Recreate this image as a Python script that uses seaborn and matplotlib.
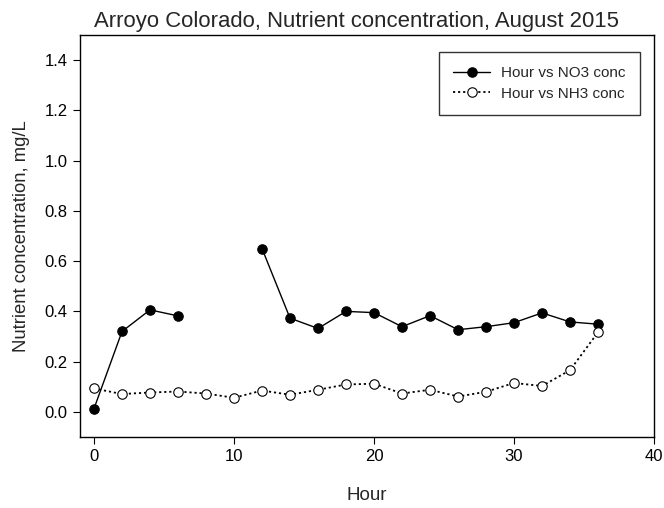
import numpy as np
import pandas as pd
import matplotlib
matplotlib.use("Agg")
import matplotlib.pyplot as plt
import seaborn as sns

# Sampling hours and measured concentrations (mg/L); NO3 missing at hours 8 and 10
hours = [0, 2, 4, 6, 8, 10, 12, 14, 16, 18, 20, 22, 24, 26, 28, 30, 32, 34, 36]
no3_conc = [0.013, 0.320, 0.406, 0.382, np.nan, np.nan, 0.650, 0.373, 0.332, 0.400,
            0.395, 0.339, 0.383, 0.327, 0.339, 0.355, 0.394, 0.358, 0.349]
nh3_conc = [0.093, 0.071, 0.077, 0.081, 0.073, 0.056, 0.085, 0.068, 0.088, 0.109,
            0.112, 0.073, 0.088, 0.061, 0.080, 0.115, 0.103, 0.166, 0.317]

x_ticks = [0, 10, 20, 30, 40]
y_ticks = [0.0, 0.2, 0.4, 0.6, 0.8, 1.0, 1.2, 1.4]

df = pd.DataFrame({"Hour": hours, "NO3": no3_conc, "NH3": nh3_conc})
# split NO3 into contiguous runs so the missing hours leave a gap in the line
df["run"] = df["NO3"].isna().cumsum()

sns.set_style("ticks")
plt.rcParams["font.family"] = ["Liberation Sans", "DejaVu Sans"]
plt.rcParams["font.stretch"] = "normal"

fig = plt.figure(figsize=(6.64, 5.08), dpi=100)
ax = fig.add_axes([0.1205, 0.1398, 0.8645, 0.7912])

no3 = df.dropna(subset=["NO3"])
first = True
for _, seg in no3.groupby("run"):
    sns.lineplot(data=seg, x="Hour", y="NO3", ax=ax, color="black", lw=1.0,
                 marker="o", markersize=6.8, markerfacecolor="black",
                 markeredgecolor="black", markeredgewidth=0.8,
                 label="Hour vs NO3 conc" if first else None,
                 legend=False, sort=False)
    first = False

sns.lineplot(data=df, x="Hour", y="NH3", ax=ax, color="black", lw=1.3,
             linestyle=(0, (1.2, 1.6)), marker="o", markersize=6.8,
             markerfacecolor="white", markeredgecolor="black",
             markeredgewidth=0.8, label="Hour vs NH3 conc",
             legend=False, sort=False)

ax.set_xlim(-1, 40)
ax.set_ylim(-0.1, 1.5)
ax.set_xticks(x_ticks)
ax.set_yticks(y_ticks)
ax.set_yticklabels([f"{v:.1f}" for v in y_ticks])
ax.tick_params(direction="out", length=5, width=0.8, labelsize=12, colors="black",
               pad=4)
for side in ["top", "right", "left", "bottom"]:
    ax.spines[side].set_visible(True)
    ax.spines[side].set_linewidth(1.0)
    ax.spines[side].set_color("black")

ax.set_xlabel("Hour", fontsize=13.5, labelpad=16)
ax.set_ylabel("Nutrient concentration, mg/L", fontsize=13.3, labelpad=10)
ax.set_title("Arroyo Colorado, Nutrient concentration, August 2015",
             fontsize=15.9, pad=6, x=0.481)

handles, labels = ax.get_legend_handles_labels()
leg = ax.legend(handles, labels, loc="upper right", bbox_to_anchor=(0.9756, 0.9577),
                borderaxespad=0, fontsize=11, frameon=True, fancybox=False,
                handlelength=2.4, borderpad=0.92, labelspacing=0.42,
                handletextpad=0.75)
leg.get_frame().set_edgecolor("black")
leg.get_frame().set_linewidth(1.0)

fig.savefig("out.png", dpi=100)
